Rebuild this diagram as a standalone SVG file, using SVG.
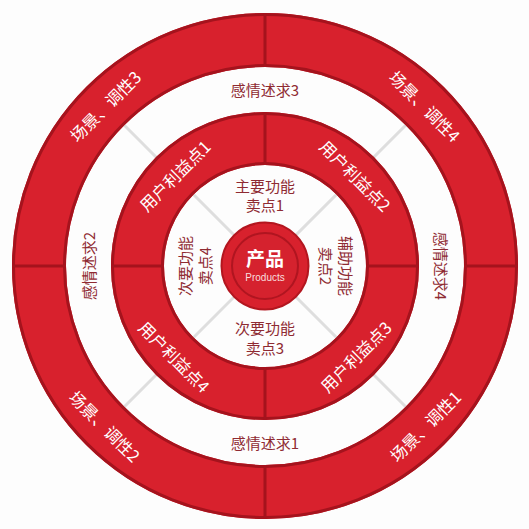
<svg xmlns="http://www.w3.org/2000/svg" width="529" height="529" viewBox="0 0 529 529">
<style>
.ring{fill:none;stroke:#d8212d}
.edge{fill:none;stroke:#a5131d;stroke-width:3}
.div{stroke:#a5131d;stroke-width:3}
.guide{stroke:#dedede;stroke-width:3}
.wt{font-family:"Noto Sans CJK SC","Noto Sans",sans-serif;font-size:16.5px;fill:#ffffff;text-anchor:middle;dominant-baseline:central}
.dt{font-family:"Noto Sans CJK SC","Noto Sans",sans-serif;font-size:15px;fill:#8f2b32;text-anchor:middle;dominant-baseline:central}
.ft{font-family:"Noto Sans CJK SC","Noto Sans",sans-serif;font-size:15px;fill:#8f2b32;text-anchor:middle;dominant-baseline:central}
</style>
<rect width="529" height="529" fill="#fdfdfd"/>
<g id="connectors">
<line class="guide" x1="124.3" y1="125.3" x2="405.7" y2="406.7"/>
<line class="guide" x1="405.7" y1="125.3" x2="124.3" y2="406.7"/>
</g>
<g id="outer-ring">
<circle class="ring" cx="265" cy="266" r="226" stroke-width="54"/>
<circle class="edge" cx="265" cy="266" r="251.5"/>
<circle class="edge" cx="265" cy="266" r="200.5"/>
<line class="div" x1="265" y1="13" x2="265" y2="67"/>
<line class="div" x1="265" y1="465" x2="265" y2="519"/>
<line class="div" x1="12" y1="266" x2="66" y2="266"/>
<line class="div" x1="464" y1="266" x2="518" y2="266"/>
</g>
<g id="scene-3"><text class="wt" transform="translate(105 106) rotate(-45)">场景、调性3</text></g>
<g id="scene-4"><text class="wt" transform="translate(425 106) rotate(45)">场景、调性4</text></g>
<g id="scene-1"><text class="wt" transform="translate(425 426) rotate(-45)">场景、调性1</text></g>
<g id="scene-2"><text class="wt" transform="translate(105 426) rotate(45)">场景、调性2</text></g>
<g id="emotion-3"><text class="dt" x="265" y="89.5">感情述求3</text></g>
<g id="emotion-1"><text class="dt" x="265" y="442.5">感情述求1</text></g>
<g id="emotion-2"><text class="dt" transform="translate(88.5 266) rotate(-90)">感情述求2</text></g>
<g id="emotion-4"><text class="dt" transform="translate(441.5 266) rotate(90)">感情述求4</text></g>
<g id="middle-ring">
<circle class="ring" cx="265" cy="266" r="127.5" stroke-width="53"/>
<circle class="edge" cx="265" cy="266" r="152.5"/>
<circle class="edge" cx="265" cy="266" r="102.5"/>
<line class="div" x1="265" y1="112" x2="265" y2="165"/>
<line class="div" x1="265" y1="367" x2="265" y2="420"/>
<line class="div" x1="111" y1="266" x2="164" y2="266"/>
<line class="div" x1="366" y1="266" x2="419" y2="266"/>
</g>
<g id="benefit-1"><text class="wt" transform="translate(174.5 175.5) rotate(-45)">用户利益点1</text></g>
<g id="benefit-2"><text class="wt" transform="translate(355.5 175.5) rotate(45)">用户利益点2</text></g>
<g id="benefit-3"><text class="wt" transform="translate(355.5 356.5) rotate(-45)">用户利益点3</text></g>
<g id="benefit-4"><text class="wt" transform="translate(174.5 356.5) rotate(45)">用户利益点4</text></g>
<g id="feature-1"><text class="ft" x="265" y="185">主要功能</text><text class="ft" x="265" y="204.5">卖点1</text></g>
<g id="feature-3"><text class="ft" x="265" y="327.5">次要功能</text><text class="ft" x="265" y="347">卖点3</text></g>
<g id="feature-4"><text class="ft" transform="translate(184.5 266) rotate(-90)">次要功能</text><text class="ft" transform="translate(204 266) rotate(-90)">卖点4</text></g>
<g id="feature-2"><text class="ft" transform="translate(346 266) rotate(90)">辅助功能</text><text class="ft" transform="translate(326.5 266) rotate(90)">卖点2</text></g>
<g id="product">
<circle cx="265" cy="266" r="43.5" fill="#d8212d" stroke="#b3161f" stroke-width="2"/>
<circle cx="265" cy="266" r="33" fill="#d5222e" stroke="#b01520" stroke-width="2"/>
<text x="265" y="257.5" font-family="Noto Sans CJK SC,Noto Sans,sans-serif" font-size="19" font-weight="bold" fill="#ffffff" text-anchor="middle" dominant-baseline="central">产品</text>
<text x="265" y="277.5" font-family="Liberation Sans,Arial,sans-serif" font-size="10" fill="#f8dede" text-anchor="middle" dominant-baseline="central">Products</text>
</g>
</svg>
